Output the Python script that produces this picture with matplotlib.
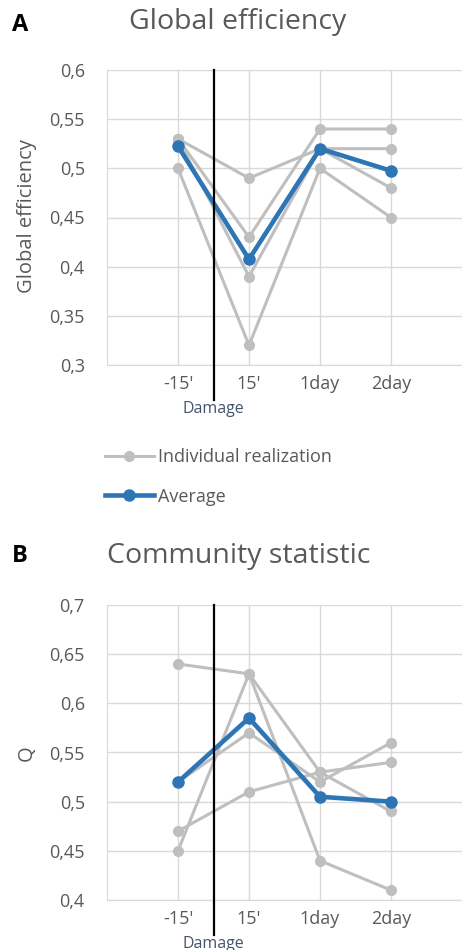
import numpy as np
import matplotlib
matplotlib.use('Agg')
import matplotlib.pyplot as plt
from matplotlib.lines import Line2D

# time points (damage sits between -15' and 15')
labels = ["-15'", "15'", "1day", "2day"]

# global efficiency, one list per realization
ge_runs = [
  [0.50, 0.32, 0.50, 0.45],
  [0.53, 0.49, 0.52, 0.52],
  [0.53, 0.43, 0.54, 0.54],
  [0.53, 0.39, 0.52, 0.48],
]
ge_avg = [0.5225, 0.4075, 0.52, 0.4975]

# community statistic Q
q_runs = [
  [0.64, 0.63, 0.53, 0.49],
  [0.45, 0.63, 0.44, 0.41],
  [0.47, 0.51, 0.53, 0.54],
  [0.52, 0.57, 0.52, 0.56],
]
q_avg = [0.52, 0.585, 0.505, 0.50]

GRAY = '#bfbfbf'
BLUE = '#2e75b6'
GRID = '#d9d9d9'
TXT = '#595959'

plt.rcParams['font.family'] = ['Open Sans', 'DejaVu Sans']

W, H = 462, 950

def fy(p):
  return 1 - p / H

def fx(p):
  return p / W

def panel(ax, runs, avg, ylim, step):
  x = np.arange(len(labels))
  for r in runs:
    ax.plot(x, r, '-o', color=GRAY, lw=2.2, ms=7, zorder=2)
  ax.plot(x, avg, '-o', color=BLUE, lw=3.3, ms=8, zorder=3)
  ax.axvline(0.5, ymin=-0.119, ymax=1, color='black', lw=1.6, clip_on=False, zorder=5)
  ax.text(0.5, -0.149, 'Damage', color='#44546a', fontsize=11.5, ha='center', va='center',
          transform=ax.get_xaxis_transform())
  ax.set_xlim(-1, 4)
  ax.set_ylim(*ylim)
  ax.set_xticks(x)
  ax.set_xticklabels(labels)
  yt = np.arange(ylim[0], ylim[1] + step / 2, step)
  ax.set_yticks(yt)
  ax.set_yticklabels([('%g' % round(v, 2)).replace('.', ',') for v in yt])
  ax.grid(True, color=GRID, lw=1)
  ax.set_axisbelow(True)
  ax.tick_params(length=0, labelsize=13, colors=TXT)
  ax.tick_params(axis='x', pad=7)
  ax.tick_params(axis='y', pad=16)
  for s in ['top', 'right']:
    ax.spines[s].set_visible(False)
  for s in ['left', 'bottom']:
    ax.spines[s].set_color(GRID)

fig = plt.figure(figsize=(W / 100, H / 100), dpi=100)

ax_a = fig.add_axes([fx(107), fy(365), fx(462) - fx(107), fy(70) - fy(365)])
panel(ax_a, ge_runs, ge_avg, (0.3, 0.6), 0.05)

ax_b = fig.add_axes([fx(107), fy(900), fx(462) - fx(107), fy(605) - fy(900)])
panel(ax_b, q_runs, q_avg, (0.4, 0.7), 0.05)

# titles, panel letters, y labels
fig.text(fx(12), fy(25), 'A', fontsize=17, fontweight='bold', va='center')
fig.text(fx(238), fy(22), 'Global efficiency', fontsize=20.5, color=TXT, ha='center', va='center')
fig.text(fx(12), fy(556), 'B', fontsize=17, fontweight='bold', va='center')
fig.text(fx(239), fy(556), 'Community statistic', fontsize=20.5, color=TXT, ha='center', va='center')
fig.text(fx(27), fy(216), 'Global efficiency', fontsize=14.5, color=TXT, rotation=90, ha='center', va='center')
fig.text(fx(27), fy(753), 'Q', fontsize=14.5, color=TXT, rotation=90, ha='center', va='center')

# legend between the panels
handles = [Line2D([], [], color=GRAY, lw=2.2, marker='o', ms=7),
           Line2D([], [], color=BLUE, lw=3.3, marker='o', ms=8)]
fig.legend(handles, ['Individual realization', 'Average'], loc='upper left',
           bbox_to_anchor=(fx(105), fy(448)), frameon=False, fontsize=13,
           handlelength=2.7, handletextpad=0.22, labelspacing=1.2, borderpad=0,
           borderaxespad=0, labelcolor=TXT)

fig.savefig('out.png', dpi=100)
